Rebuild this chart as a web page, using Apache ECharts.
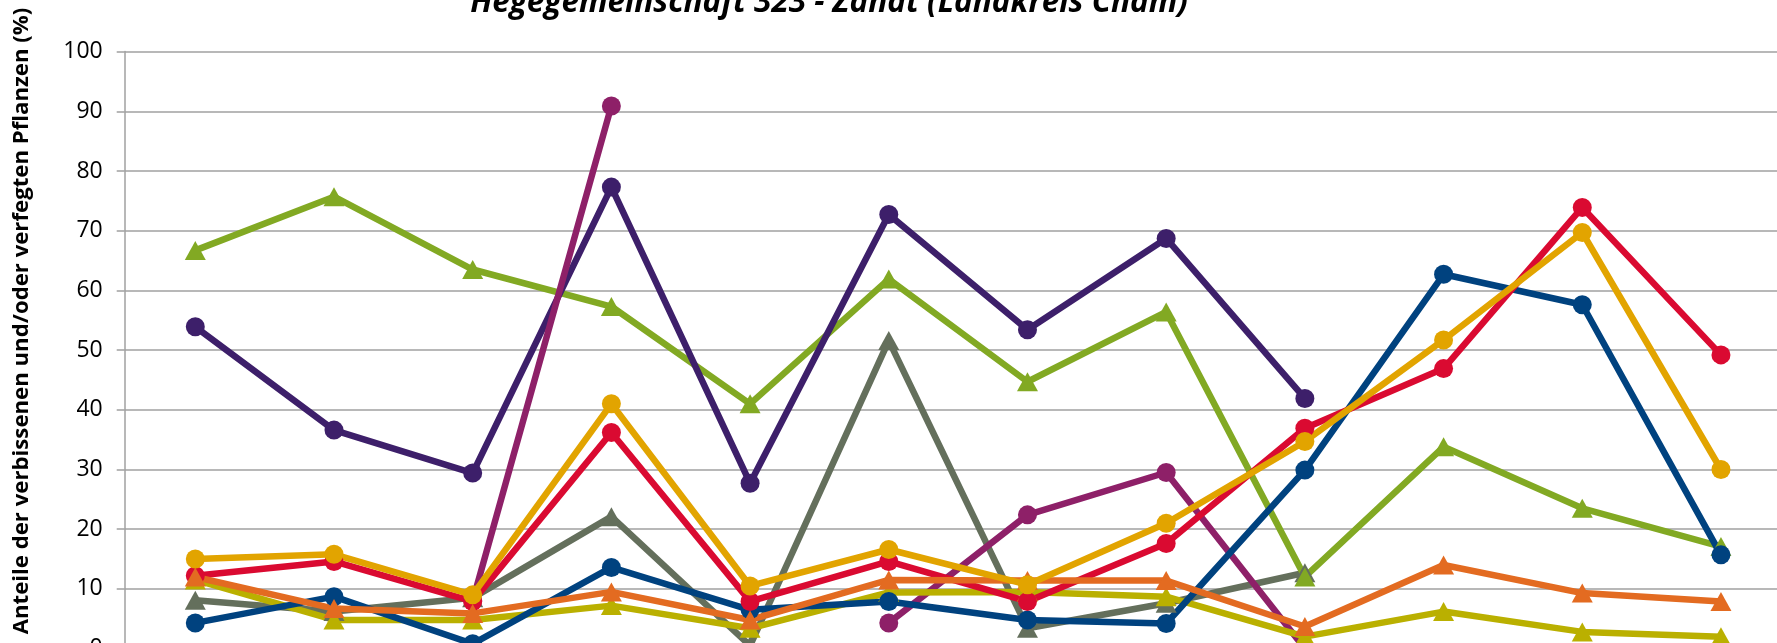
<!DOCTYPE html>
<html>
<head>
<meta charset="utf-8">
<script src="https://cdn.jsdelivr.net/npm/echarts@6/dist/echarts.min.js"></script>
<style>
html,body{margin:0;padding:0;background:#fff;}
#chart{width:1777px;height:643px;}
</style>
</head>
<body>
<div id="chart"></div>
<script>
// Survey years (axis labels lie below the visible area)
const categories = ['1991','1994','1997','2000','2003','2006','2009','2012','2015','2018','2021','2024'];
const yTicks = [0,10,20,30,40,50,60,70,80,90,100];

const titleText = 'Hegegemeinschaft 323 - Zandt (Landkreis Cham)';
const yAxisTitle = 'Anteile der verbissenen und/oder verfegten Pflanzen (%)';

const grayTri    = [8.1, 6.2, 8.5, 22.1, 0.5, 51.6, 3.4, 7.6, 12.7, null, null, null];
const greenTri   = [66.7, 75.7, 63.5, 57.3, 41.0, 61.9, 44.7, 56.4, 12.0, 33.8, 23.5, 17.1];
const purpleDot  = [53.9, 36.6, 29.4, 77.3, 27.7, 72.7, 53.4, 68.7, 41.9, null, null, null];
const magentaDot = [null, null, 8.0, 90.9, null, 4.3, 22.4, 29.5, 0, null, null, null];
const oliveTri   = [11.5, 4.8, 4.8, 7.2, 3.4, 9.4, 9.5, 8.7, 2.0, 6.2, 2.8, 2.0];
const blueDot    = [4.3, 8.7, 0.8, 13.6, 6.5, 7.9, 4.8, 4.2, 29.9, 62.7, 57.6, 15.7];
const redDot     = [12.2, 14.6, 7.9, 36.2, 7.9, 14.6, 7.9, 17.6, 36.9, 46.9, 73.9, 49.2];
const orangeTri  = [12.0, 6.7, 5.9, 9.5, 4.8, 11.5, 11.4, 11.4, 3.7, 14.0, 9.3, 7.9];
const yellowDot  = [15.0, 15.8, 9.0, 41.0, 10.5, 16.6, 10.7, 21.0, 34.7, 51.7, 69.7, 30.0];

const seriesDefs = [
  {name:'Sonstiges Laubholz', data: grayTri,    color:'#646F5C', symbol:'triangle'},
  {name:'Edellaubholz',       data: greenTri,   color:'#82A923', symbol:'triangle'},
  {name:'Tanne',              data: purpleDot,  color:'#3D1F6A', symbol:'circle'},
  {name:'Eiche',              data: magentaDot, color:'#8E2068', symbol:'circle'},
  {name:'Kiefer',             data: oliveTri,   color:'#BAB000', symbol:'triangle'},
  {name:'Fichte',             data: blueDot,    color:'#00427F', symbol:'circle'},
  {name:'Buche',              data: redDot,     color:'#DA0A31', symbol:'circle'},
  {name:'Lärche',             data: orangeTri,  color:'#E36B21', symbol:'triangle'},
  {name:'Laubholz gesamt',    data: yellowDot,  color:'#E2A400', symbol:'circle'}
];

const chart = echarts.init(document.getElementById('chart'), null, {renderer:'canvas'});
const FONT = '"Open Sans", "Liberation Sans", sans-serif';

chart.setOption({
  animation: false,
  backgroundColor: '#ffffff',
  grid: {left: 124.7, top: 51.6, right: 0, bottom: -5.6, containLabel: false, outerBoundsMode: 'none'},
  xAxis: {
    type: 'value',
    min: -0.509, max: 11.404,
    show: false
  },
  yAxis: {
    type: 'value',
    min: 0, max: 100, interval: 10,
    axisLine: {show: true, onZero: false, lineStyle: {color: '#A0A0A0', width: 1.5}},
    axisTick: {show: true, length: 8, lineStyle: {color: '#A0A0A0', width: 1.5}},
    splitLine: {show: true, lineStyle: {color: '#A0A0A0', width: 1.5}},
    axisLabel: {
      margin: 22, color: '#000', fontSize: 23, fontFamily: FONT,
      formatter: v => yTicks.includes(v) ? String(v) : ''
    }
  },
  graphic: [
    {
      type: 'text', x: 829, y: 19,
      style: {text: titleText, font: 'italic bold 31.5px ' + FONT, fill: '#000',
              textAlign: 'center', textVerticalAlign: 'bottom'}
    },
    {
      type: 'text', x: 22, y: 321, rotation: Math.PI/2,
      style: {text: yAxisTitle, font: 'bold 22.2px ' + FONT, fill: '#000',
              textAlign: 'center', textVerticalAlign: 'middle'}
    }
  ],
  series: seriesDefs.map(s => ({
    name: s.name,
    type: 'line',
    data: s.data.map((v, i) => [i, v]),
    symbol: s.symbol,
    symbolSize: s.symbol === 'circle' ? 19 : [21, 19],
    showSymbol: true,
    connectNulls: false,
    lineStyle: {color: s.color, width: 6.5},
    itemStyle: {color: s.color},
    clip: false
  }))
});
</script>
</body>
</html>
